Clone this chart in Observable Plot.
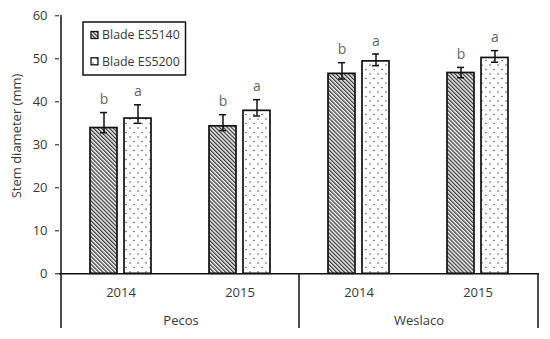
<!DOCTYPE html>
<html>
<head>
<meta charset="utf-8">
<script src="https://cdn.jsdelivr.net/npm/d3@7"></script>
<script src="https://cdn.jsdelivr.net/npm/@observablehq/plot@0.6"></script>
<style>
  html, body { margin: 0; padding: 0; background: #fff; }
  #chart { width: 550px; height: 339px; }
</style>
</head>
<body>
<div id="chart"></div>
<script>
const sites = ["Pecos", "Pecos", "Weslaco", "Weslaco"];
const years = ["2014", "2015", "2014", "2015"];
const series = ["Blade ES5140", "Blade ES5200"];
const es5140 = [33.9, 34.3, 46.5, 46.7];
const es5140Low = [32.8, 33.3, 45.3, 45.6];
const es5140High = [37.5, 37.0, 49.1, 48.0];
const es5140Letters = ["b", "b", "b", "b"];
const es5200 = [36.1, 37.9, 49.4, 50.2];
const es5200Low = [35.0, 36.7, 48.4, 49.2];
const es5200High = [39.3, 40.5, 51.1, 51.9];
const es5200Letters = ["a", "a", "a", "a"];
const yTicks = [0, 10, 20, 30, 40, 50, 60];
const yLabel = "Stem diameter (mm)";

const cats = sites.map((s, i) => s + "|" + years[i]);
const rows = (vals, lo, hi, let_, ser) => cats.map((c, i) => ({cat: c, value: vals[i], lo: lo[i], hi: hi[i], letter: let_[i], series: ser}));
const d1 = rows(es5140, es5140Low, es5140High, es5140Letters, series[0]);
const d2 = rows(es5200, es5200Low, es5200High, es5200Letters, series[1]);
const siteStarts = cats.filter((c, i) => i === 0 || sites[i] !== sites[i - 1]);
const siteFirst = siteStarts.slice(1);
const lastCat = [cats[cats.length - 1]];
const siteLabels = siteStarts.map(c => ({cat: c, site: c.split("|")[0]}));

const font = "'Open Sans', sans-serif";
const half = 60;  // half band step in px (styling offset)
const off = 17;   // bar center offset within band
const marginTop = 15, marginBottom = 11;
const yRange = [273.3, 15.3];
const belowAxis = yRange[0] - marginTop; // inset so separators start at the baseline
const ink = "#383838";

const plot = Plot.plot({
  width: 550,
  height: 339,
  marginTop,
  marginBottom,
  marginLeft: 59,
  marginRight: 11,
  style: {fontFamily: font, fontSize: "13px", color: ink, background: "#fff"},
  x: {domain: cats, range: [59.3, 538.7], padding: 0, axis: null},
  y: {domain: [0, 60], range: yRange, axis: null},
  marks: [
    // bars
    Plot.barY(d1, {x: "cat", y: "value", fill: "url(#hatch5140)", stroke: "#111", strokeWidth: 1.7, insetLeft: half - off - 14, insetRight: half + off - 14}),
    Plot.barY(d2, {x: "cat", y: "value", fill: "url(#dots5200)", stroke: "#111", strokeWidth: 1.7, insetLeft: half + off - 14, insetRight: half - off - 14}),
    // error bars
    Plot.ruleX(d1, {x: "cat", y1: "lo", y2: "hi", dx: -off, stroke: "#111", strokeWidth: 1.5}),
    Plot.ruleX(d2, {x: "cat", y1: "lo", y2: "hi", dx: off, stroke: "#111", strokeWidth: 1.5}),
    Plot.tickY(d1, {x: "cat", y: "hi", insetLeft: half - off - 4, insetRight: half + off - 4, stroke: "#111", strokeWidth: 1.5}),
    Plot.tickY(d1, {x: "cat", y: "lo", insetLeft: half - off - 4, insetRight: half + off - 4, stroke: "#111", strokeWidth: 1.5}),
    Plot.tickY(d2, {x: "cat", y: "hi", insetLeft: half + off - 4, insetRight: half - off - 4, stroke: "#111", strokeWidth: 1.5}),
    Plot.tickY(d2, {x: "cat", y: "lo", insetLeft: half + off - 4, insetRight: half - off - 4, stroke: "#111", strokeWidth: 1.5}),
    // significance letters
    Plot.text(d1, {x: "cat", y: "hi", text: "letter", dx: -off, dy: -13, fill: "#666", fontSize: 14}),
    Plot.text(d2, {x: "cat", y: "hi", text: "letter", dx: off, dy: -13, fill: "#666", fontSize: 14}),
    // y axis
    Plot.axisY({ticks: yTicks, tickSize: 4, tickPadding: 8, label: null, stroke: "#111", fill: ink, fontSize: 13}),
    Plot.ruleX([cats[0]], {x: d => d, dx: -half, stroke: "#111", strokeWidth: 1.5}),
    // baseline
    Plot.ruleY([0], {stroke: "#111", strokeWidth: 1.5}),
    // group separators below the axis
    Plot.ruleX(siteFirst, {x: d => d, dx: -half, insetTop: belowAxis, stroke: "#111", strokeWidth: 1.5}),
    Plot.ruleX(lastCat, {x: d => d, dx: half, insetTop: belowAxis, stroke: "#111", strokeWidth: 1.5}),
    // category labels
    Plot.text(cats, {x: d => d, y: 0, text: d => d.split("|")[1], dy: 19, fill: ink, fontSize: 13}),
    Plot.text(siteLabels, {x: "cat", y: 0, text: "site", dx: half, dy: 47.5, fill: ink, fontSize: 13}),
    // y label
    Plot.text([yLabel], {frameAnchor: "left", textAnchor: "middle", dx: -43, dy: -36, rotate: -90, fill: ink, fontSize: 13})
  ]
});

const svg = d3.select(plot);
const defs = svg.insert("defs", ":first-child");
const hatch = defs.append("pattern").attr("id", "hatch5140").attr("patternUnits", "userSpaceOnUse")
  .attr("width", 2.8).attr("height", 2.8).attr("patternTransform", "rotate(-45)");
hatch.append("rect").attr("width", 2.8).attr("height", 2.8).attr("fill", "#fff");
hatch.append("line").attr("x1", 0.7).attr("y1", 0).attr("x2", 0.7).attr("y2", 2.8).attr("stroke", "#333").attr("stroke-width", 1.3);
const dots = defs.append("pattern").attr("id", "dots5200").attr("patternUnits", "userSpaceOnUse")
  .attr("width", 8).attr("height", 9);
dots.append("rect").attr("width", 8).attr("height", 9).attr("fill", "#fff");
dots.append("circle").attr("cx", 2).attr("cy", 2).attr("r", 0.75).attr("fill", "#444");
dots.append("circle").attr("cx", 6).attr("cy", 6.5).attr("r", 0.75).attr("fill", "#444");

// legend inside the plot area
const lg = svg.append("g").attr("transform", "translate(83,22)");
lg.append("rect").attr("width", 102.5).attr("height", 53).attr("fill", "#fff").attr("stroke", "#111").attr("stroke-width", 1.5);
const fills = ["url(#hatch5140)", "url(#dots5200)"];
series.forEach((s, i) => {
  const g = lg.append("g").attr("transform", `translate(8,${13 + i * 26.3})`);
  g.append("rect").attr("x", 0).attr("y", -3.5).attr("width", 7).attr("height", 7).attr("fill", fills[i]).attr("stroke", "#111").attr("stroke-width", 1.3);
  g.append("text").attr("x", 11).attr("y", 0).attr("dy", "0.35em").attr("fill", ink)
    .attr("text-anchor", "start").attr("font-family", font).attr("font-size", 12.4).text(s);
});

document.getElementById("chart").appendChild(plot);
</script>
</body>
</html>
